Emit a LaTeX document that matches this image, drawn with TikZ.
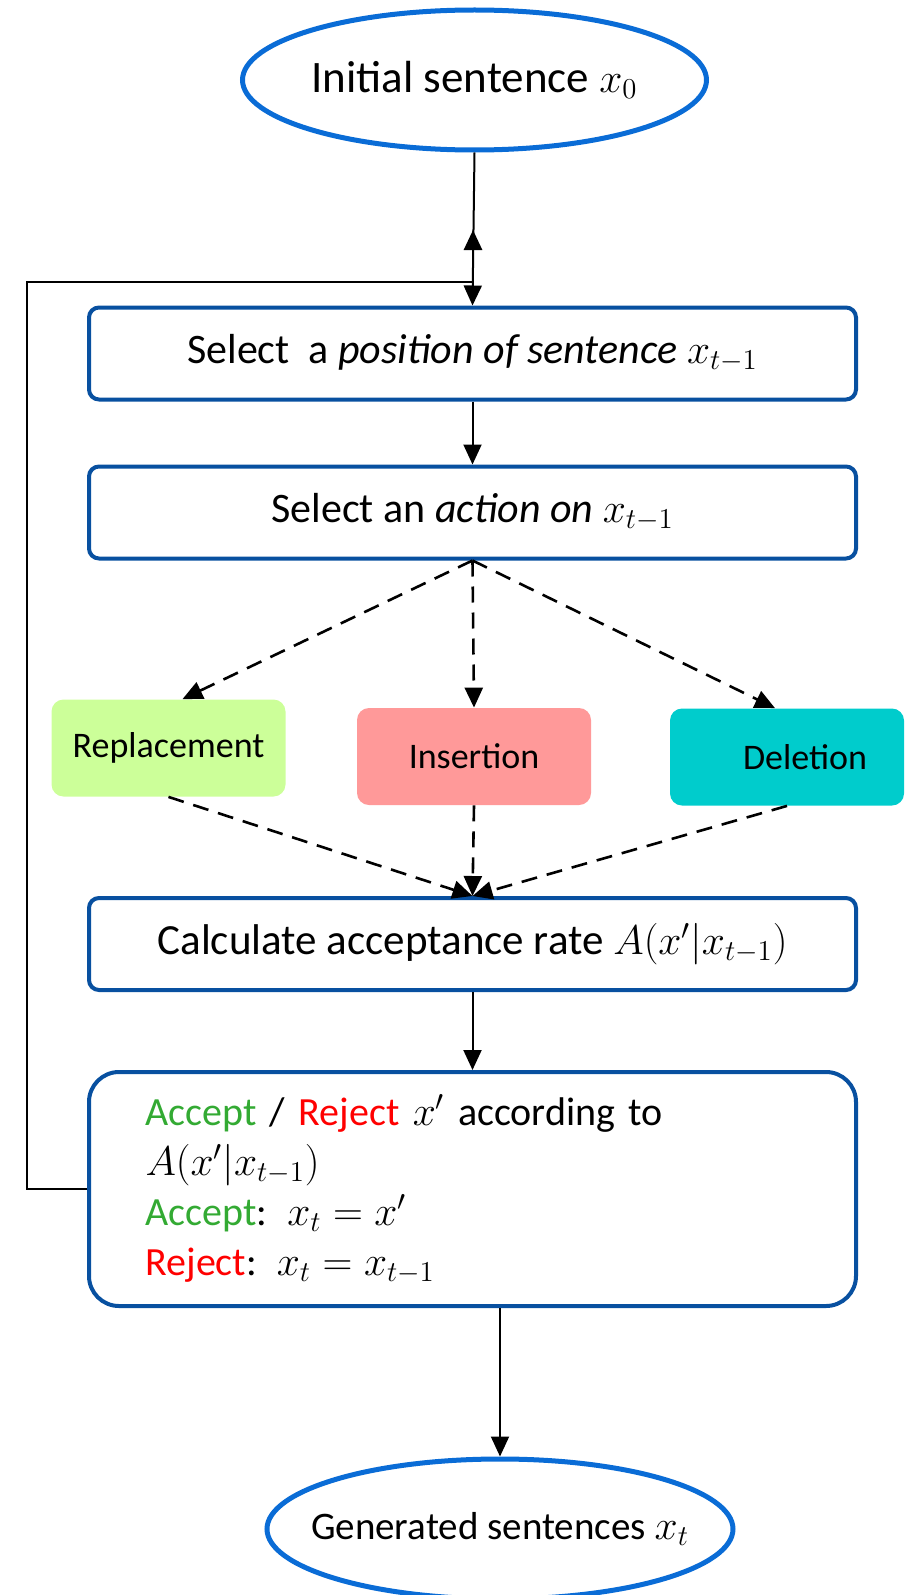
\documentclass[tikz,border=0pt]{standalone}
\usepackage{fontspec}
\setmainfont{Carlito}
\usetikzlibrary{shapes.geometric,arrows.meta}
\definecolor{ovalblue}{RGB}{10,108,214}
\definecolor{boxblue}{RGB}{8,80,160}
\definecolor{repgreen}{RGB}{204,255,153}
\definecolor{inspink}{RGB}{255,153,153}
\definecolor{delcyan}{RGB}{0,204,204}
\definecolor{accgreen}{RGB}{51,170,51}
\tikzset{
  oval/.style={ellipse,draw=ovalblue,line width=2.5pt,minimum width=232pt,minimum height=70pt,inner sep=0pt,font=\fontsize{22.5}{26}\selectfont},
  stepbox/.style={draw=boxblue,line width=2pt,rounded corners=5pt,minimum width=383.5pt,minimum height=46pt,font=\fontsize{21}{25}\selectfont},
  opbox/.style={rounded corners=6pt,minimum width=117pt,minimum height=48.5pt,font=\fontsize{18}{22}\selectfont},
  arr/.style={-{Triangle[width=9pt,length=10pt]},line width=1pt},
  darr/.style={arr,line width=1.3pt,dash pattern=on 8pt off 5pt}
}
\begin{document}
\begin{tikzpicture}[x=0.5pt,y=-0.5pt]
    \useasboundingbox (0,0) rectangle (905,1595);
    \node[oval] (init) at (474.5,80) {\makebox[100pt]{Initial sentence $x_0$}};
    \node[stepbox] (pos) at (472.5,353.5) {Select\ \ a \textit{position of sentence} $x_{t-1}$};
    \node[stepbox] (act) at (472.5,512.5) {Select an \textit{action on} $x_{t-1}$};
    \node[opbox,fill=repgreen] (rep) at (168.5,748) {Replacement};
    \node[opbox,fill=inspink] (ins) at (474,756.5) {Insertion};
    \node[opbox,fill=delcyan] (del) at (787,757) {\quad Deletion};
    \node[stepbox,font=\fontsize{21.5}{25}\selectfont] (rate) at (472.5,944) {Calculate acceptance rate $A(x'|x_{t-1})$};
    \node[stepbox,rounded corners=15pt,minimum height=117pt,align=left,text width=327pt,inner xsep=28pt,font=\fontsize{20}{25}\selectfont] (dec) at (472.5,1189)
        {{\color{accgreen}Accept} / {\color{red}Reject} $x'$ according to\\
         $A(x'|x_{t-1})$\\
         {\color{accgreen}Accept}: $x_t=x'$\\
         {\color{red}Reject}: $x_t=x_{t-1}$};
    \node[oval,minimum width=233pt,font=\fontsize{19.5}{24}\selectfont] (gen) at (500,1529) {\makebox[100pt]{Generated sentences $x_t$}};
    \coordinate (loopL) at (27,282);
    \coordinate (loopT) at (473,230);
    \draw[arr] (init.south) -- (pos.north);
    \draw[arr,line width=1.4pt] (dec.west) -| (loopL) -| (loopT);
    \draw[arr] (pos) -- (act);
    \draw[darr] (act.south) -- ([xshift=7pt]rep.north);
    \draw[darr] (act.south) -- (ins.north);
    \draw[darr] (act.south) -- ([xshift=-6pt]del.north);
    \draw[darr] (rep.south) -- (rate.north);
    \draw[darr] (ins.south) -- (rate.north);
    \draw[darr] (del.south) -- (rate.north);
    \draw[arr] (rate) -- (dec);
    \draw[arr] (gen.north |- dec.south) -- (gen.north);
\end{tikzpicture}
\end{document}
